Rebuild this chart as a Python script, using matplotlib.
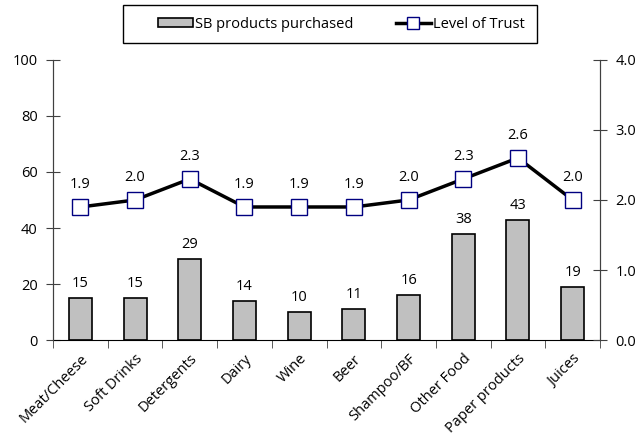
import numpy as np
import matplotlib
matplotlib.use("Agg")
import matplotlib.pyplot as plt
from matplotlib.ticker import FixedLocator
from matplotlib.patches import Rectangle

categories = ["Meat/Cheese", "Soft Drinks", "Detergents", "Dairy", "Wine", "Beer",
              "Shampoo/BF", "Other Food", "Paper products", "Juices"]
purchased = [15, 15, 29, 14, 10, 11, 16, 38, 43, 19]
trust = [1.9, 2.0, 2.3, 1.9, 1.9, 1.9, 2.0, 2.3, 2.6, 2.0]

plt.rcParams['font.family'] = ['Open Sans', 'DejaVu Sans']
plt.rcParams['font.size'] = 10.5

W, H = 639, 440
fig = plt.figure(figsize=(W / 100, H / 100), dpi=100)
ax = fig.add_axes([0.083, 0.227, 0.856, 0.637])
ax2 = ax.twinx()

x = np.arange(len(categories))
bars = ax.bar(x, purchased, width=0.42, color="#C0C0C0", edgecolor="black",
              linewidth=1.2, label="SB products purchased", zorder=2)
for xi, v in zip(x, purchased):
    ax.text(xi, v + 2.5, str(v), ha="center", va="bottom")

line, = ax2.plot(x, trust, color="black", lw=2.5, marker="s", markersize=11,
                 markerfacecolor="white", markeredgecolor="#000080", markeredgewidth=1,
                 label="Level of Trust", zorder=3)
for xi, v in zip(x, trust):
    ax2.text(xi, v + 0.22, f"{v:.1f}", ha="center", va="bottom")

ax.set_xlim(-0.5, len(categories) - 0.5)
ax.set_ylim(0, 100)
ax2.set_ylim(0, 4)
ax.set_yticks([0, 20, 40, 60, 80, 100])
ax2.set_yticks([0, 1, 2, 3, 4])
ax2.set_yticklabels(["0.0", "1.0", "2.0", "3.0", "4.0"])

ax.set_xticks(x)
ax.set_xticklabels(categories, rotation=45, ha="right", rotation_mode="anchor")
ax.tick_params(axis="x", which="major", length=0, pad=8)
ax.xaxis.set_minor_locator(FixedLocator(np.arange(-0.5, len(categories), 1.0)))
ax.tick_params(axis="x", which="minor", length=6, direction="out", color="#404040")
ax.tick_params(axis="y", direction="inout", length=10, color="#404040", pad=6)
ax2.tick_params(axis="y", direction="inout", length=10, color="#404040", pad=6)

for a in (ax, ax2):
    a.spines["top"].set_visible(False)
    a.spines["left"].set_color("#404040")
    a.spines["right"].set_color("#404040")
    a.spines["bottom"].set_color("black")
ax2.spines["bottom"].set_visible(False)

# legend box drawn separately (content sits off-centre like the original)
fig.patches.append(Rectangle((123 / W, 1 - 43 / H), (537 - 123) / W, 38 / H,
                             transform=fig.transFigure, facecolor="white",
                             edgecolor="black", linewidth=1.0))
leg = fig.legend([bars, line], ["SB products purchased", "Level of Trust"],
                 loc="center left", bbox_to_anchor=(158 / W, 1 - 24 / H), ncol=2,
                 frameon=False, borderpad=0, columnspacing=2.9,
                 handletextpad=0.15, handlelength=2.4, handleheight=0.6,
                 borderaxespad=0, markerscale=0.85)

fig.savefig("out.png", dpi=100)
